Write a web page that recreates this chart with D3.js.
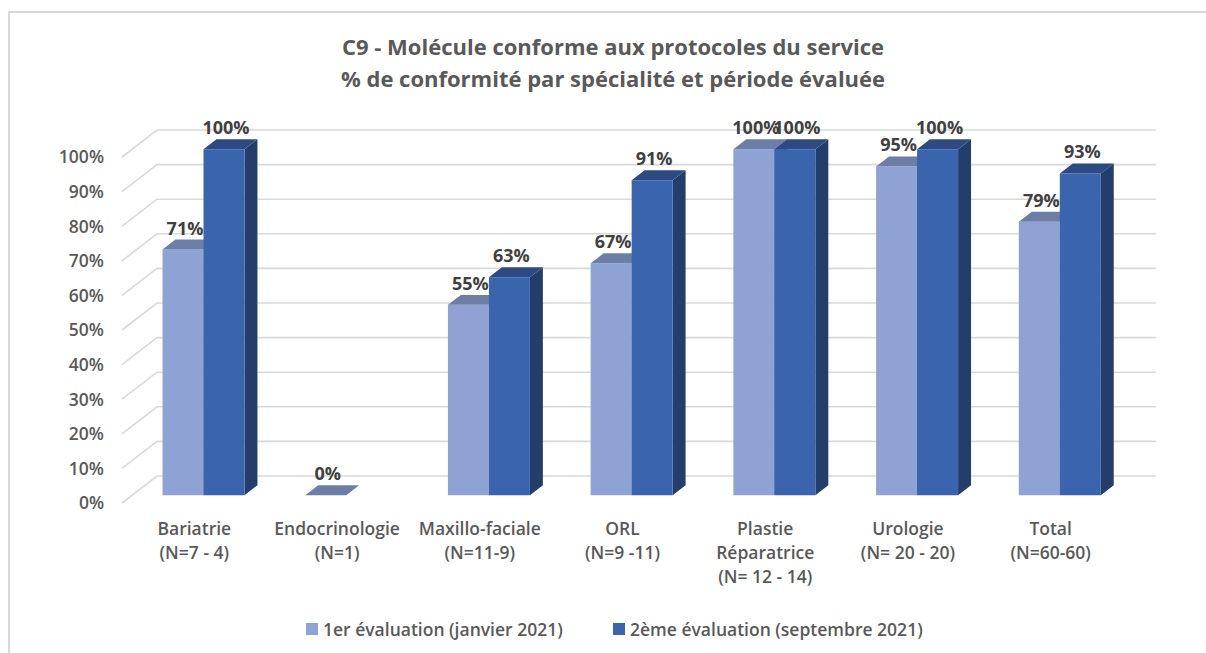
<!DOCTYPE html>
<html>
<head>
<meta charset="utf-8">
<script src="https://cdn.jsdelivr.net/npm/d3@7"></script>
<style>
  body { margin: 0; background: #fff; }
  svg { display: block; font-family: "Open Sans", sans-serif; }
</style>
</head>
<body>
<div id="chart"></div>
<script>
const categories = [
  ["Bariatrie", "(N=7 - 4)"],
  ["Endocrinologie", "(N=1)"],
  ["Maxillo-faciale", "(N=11-9)"],
  ["ORL", "(N=9 -11)"],
  ["Plastie", "Réparatrice", "(N= 12 - 14)"],
  ["Urologie", "(N= 20 - 20)"],
  ["Total", "(N=60-60)"]
];
const eval1 = [71, 0, 55, 67, 100, 95, 79];
const eval2 = [100, null, 63, 91, 100, 100, 93];
const seriesNames = ["1er évaluation (janvier 2021)", "2ème évaluation (septembre 2021)"];
const yTicks = [0, 10, 20, 30, 40, 50, 60, 70, 80, 90, 100];
const titleLines = ["C9 - Molécule conforme aux protocoles du service", "% de conformité par spécialité et période évaluée"];

const W = 1206, H = 653;
const DX = 35, DY = 27;          // depth of the 3D box
const zFront = 0.29, zBack = 0.66; // bar depth inside the box
const colors = [
  { front: "#8fa2d4", top: "#6c7ea8", side: "#5f6f96" },
  { front: "#3a64ae", top: "#2c4b85", side: "#243e6c" }
];

const svg = d3.select("#chart").append("svg").attr("width", W).attr("height", H);

// chart border
svg.append("rect")
  .attr("x", 9).attr("y", 12).attr("width", W + 20).attr("height", H + 20)
  .style("fill", "none").style("stroke", "#d9d9d9").style("stroke-width", 2);

// title
svg.append("g").selectAll("text")
  .data(titleLines).enter().append("text")
  .attr("x", 613).attr("y", (d, i) => 55 + i * 32)
  .attr("text-anchor", "middle")
  .style("font-size", "22px").style("font-weight", 700).style("fill", "#595959")
  .text(d => d);

const x = d3.scaleBand().domain(d3.range(categories.length)).range([122, 1121]);
const y = d3.scaleLinear().domain([0, 100]).range([503, 157]);
const xSub = d3.scaleBand().domain([0, 1]).range([0, 82]);

const proj = (px, py, z) => [px + z * DX, py - z * DY];

// gridlines (side wall + back wall)
const grid = svg.append("g");
grid.selectAll("polyline")
  .data(yTicks).enter().append("polyline")
  .attr("points", t => [proj(122, y(t), 0), proj(122, y(t), 1), proj(1121, y(t), 1)].map(p => p.join(",")).join(" "))
  .style("fill", "none").style("stroke", "#d9d9d9").style("stroke-width", 1.6);

// y tick labels
svg.append("g").selectAll("text")
  .data(yTicks).enter().append("text")
  .attr("x", 104).attr("y", t => y(t)).attr("dy", "0.36em")
  .attr("text-anchor", "end")
  .style("font-size", "17.5px").style("font-weight", 600).style("fill", "#595959")
  .text(t => t + "%");

// bars
const bars = [];
categories.forEach((c, i) => {
  [eval1, eval2].forEach((s, k) => {
    if (s[i] == null) return;
    bars.push({ i, k, v: s[i] });
  });
});

const barG = svg.append("g");
bars.forEach(b => {
  const x0 = x(b.i) + (x.bandwidth() - 82) / 2 + xSub(b.k);
  const x1 = x0 + xSub.bandwidth();
  const yb = y(0), yt = y(b.v);
  const pt = (px, py, z) => proj(px, py, z).join(",");
  const col = colors[b.k];
  const g = barG.append("g");
  // side
  g.append("polygon")
    .attr("points", [pt(x1, yb, zFront), pt(x1, yb, zBack), pt(x1, yt, zBack), pt(x1, yt, zFront)].join(" "))
    .style("fill", col.side);
  // front
  if (b.v > 0) {
    g.append("polygon")
      .attr("points", [pt(x0, yb, zFront), pt(x1, yb, zFront), pt(x1, yt, zFront), pt(x0, yt, zFront)].join(" "))
      .style("fill", col.front);
  }
  // top
  g.append("polygon")
    .attr("points", [pt(x0, yt, zFront), pt(x1, yt, zFront), pt(x1, yt, zBack), pt(x0, yt, zBack)].join(" "))
    .style("fill", col.top);
  b.lx = proj((x0 + x1) / 2, yt, zFront)[0] + 2;
  b.ly = proj(x0, yt, zBack)[1] - 5;
});

// value labels
svg.append("g").selectAll("text")
  .data(bars).enter().append("text")
  .attr("x", d => d.lx).attr("y", d => d.ly)
  .attr("text-anchor", "middle")
  .style("font-size", "18px").style("font-weight", 700).style("fill", "#404040")
  .text(d => d.v + "%");

// category labels
const catG = svg.append("g").selectAll("text")
  .data(categories).enter().append("text")
  .attr("x", (d, i) => x(i) + x.bandwidth() / 2 + 1)
  .attr("text-anchor", "middle")
  .style("font-size", "17.5px").style("font-weight", 600).style("fill", "#595959");
catG.selectAll("tspan")
  .data(d => d).enter().append("tspan")
  .attr("x", function () { return this.parentNode.getAttribute("x"); })
  .attr("y", (d, j) => 535 + j * 24)
  .text(d => d);

// legend
const legX = [306, 613];
const leg = svg.append("g").selectAll("g")
  .data(seriesNames).enter().append("g")
  .attr("transform", (d, i) => `translate(${legX[i]},623)`);
leg.append("rect").attr("width", 12).attr("height", 12)
  .style("fill", (d, i) => colors[i].front);
leg.append("text").attr("x", 17).attr("y", 12.5)
  .style("font-size", "17.5px").style("font-weight", 600).style("fill", "#595959")
  .text(d => d);
</script>
</body>
</html>
